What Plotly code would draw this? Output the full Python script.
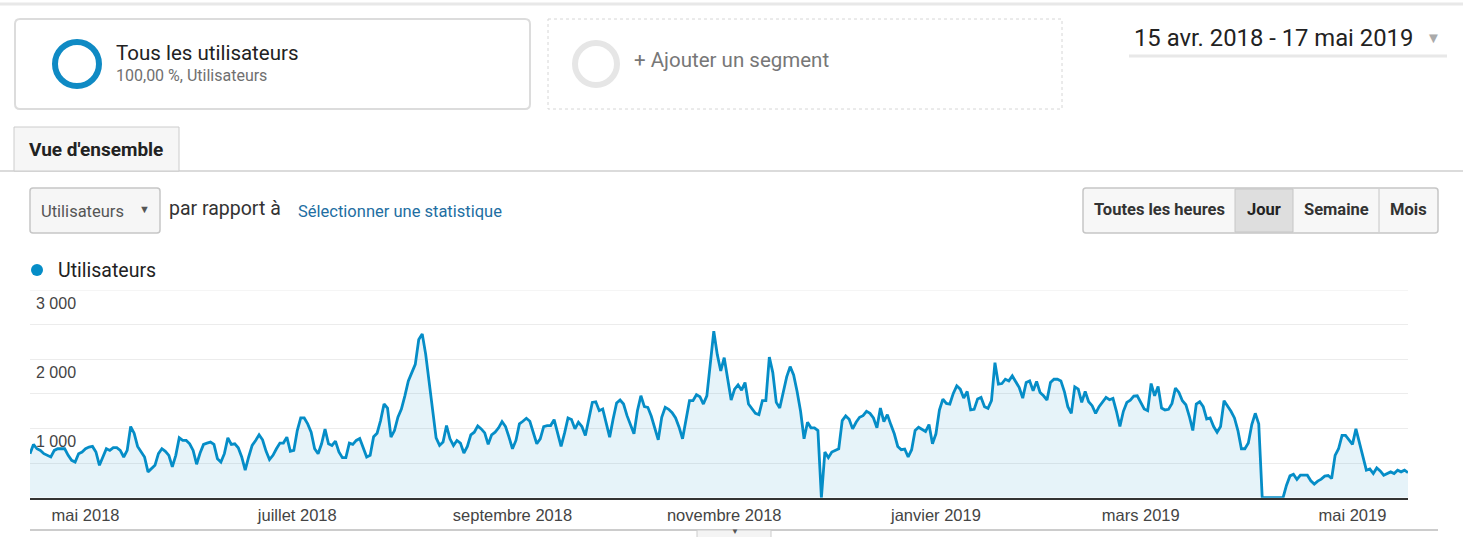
import pandas as pd
import plotly.graph_objects as go

W, H = 1463, 537

# ---------------- data ----------------
start_date = "2018-04-15"
end_date = "2019-05-17"
users = [
    636, 770, 707, 683, 636, 612, 588, 683, 707, 707,
    707, 612, 540, 516, 636, 660, 707, 731, 741, 660,
    468, 588, 707, 683, 722, 722, 683, 588, 683, 1028,
    932, 741, 660, 588, 373, 421, 468, 636, 707, 669,
    612, 445, 612, 865, 827, 827, 779, 683, 483, 645,
    770, 789, 803, 770, 564, 516, 636, 865, 770, 779,
    722, 588, 397, 588, 755, 827, 908, 836, 674, 550,
    612, 707, 789, 789, 875, 669, 683, 970, 1152, 1152,
    1066, 946, 707, 636, 779, 990, 779, 755, 817, 660,
    578, 578, 789, 770, 827, 856, 731, 588, 612, 880,
    932, 1114, 1353, 1295, 875, 970, 1162, 1281, 1472, 1687,
    1807, 1926, 2285, 2366, 2070, 1663, 1281, 865, 755, 803,
    1042, 851, 755, 827, 789, 645, 741, 908, 946, 1037,
    994, 937, 770, 908, 946, 1009, 1099, 1028, 875, 707,
    827, 1066, 1104, 1147, 1104, 946, 779, 851, 1028, 1042,
    1042, 1128, 923, 741, 932, 1152, 1128, 994, 1090, 1028,
    899, 1162, 1377, 1386, 1257, 1281, 1056, 875, 1138, 1367,
    1410, 1353, 1185, 1066, 923, 1257, 1472, 1315, 1305, 1176,
    1009, 836, 1162, 1305, 1276, 1228, 1152, 1018, 851, 1114,
    1401, 1401, 1487, 1458, 1353, 1472, 1926, 2404, 2070, 1831,
    2022, 1687, 1410, 1568, 1630, 1553, 1663, 1353, 1281, 1219,
    1200, 1401, 1401, 2032, 1807, 1377, 1295, 1534, 1745, 1893,
    1773, 1534, 1248, 851, 1090, 1009, 1009, 970, 0, 660,
    578, 660, 683, 707, 1114, 1181, 1133, 994, 1090, 1162,
    1185, 1248, 1219, 1152, 1009, 1295, 1099, 1200, 1056, 923,
    741, 693, 703, 588, 693, 970, 1018, 985, 956, 1056,
    779, 923, 1267, 1424, 1362, 1353, 1506, 1616, 1568, 1439,
    1534, 1267, 1276, 1424, 1448, 1315, 1291, 1401, 1950, 1640,
    1649, 1711, 1687, 1759, 1678, 1592, 1439, 1663, 1687, 1544,
    1678, 1520, 1472, 1410, 1663, 1711, 1711, 1687, 1534, 1315,
    1219, 1601, 1568, 1377, 1534, 1386, 1329, 1219, 1315, 1391,
    1448, 1415, 1434, 1248, 1028, 1248, 1377, 1410, 1467, 1472,
    1377, 1281, 1257, 1649, 1472, 1606, 1295, 1267, 1276, 1362,
    1582, 1520, 1401, 1343, 1176, 970, 1353, 1386, 1315, 1138,
    1152, 1028, 946, 1028, 1401, 1329, 1248, 1152, 970, 707,
    707, 789, 1056, 1219, 1066, 0, 0, 0, 0, 0,
    0, 0, 180, 315, 339, 263, 325, 325, 325, 244,
    196, 239, 268, 311, 320, 277, 612, 707, 899, 899,
    836, 770, 994, 803, 612, 397, 416, 349, 430, 387,
    325, 344, 373, 349, 397, 373, 397, 363,
]
dates = pd.date_range(start_date, end_date, freq="D")

month_ticks = ["2018-05-01", "2018-07-01", "2018-09-01", "2018-11-01",
               "2019-01-01", "2019-03-01", "2019-05-01"]
month_labels = ["mai 2018", "juillet 2018", "septembre 2018", "novembre 2018",
                "janvier 2019", "mars 2019", "mai 2019"]
y_ticks = [0, 500, 1000, 1500, 2000, 2500, 3000]
y_labels = ["", "", "1 000", "", "2 000", "", "3 000"]
y_max = 3000

series_name = "Utilisateurs"
date_range_text = "15 avr. 2018 - 17 mai 2019"

# ---------------- helpers ----------------
def px(x):
    return x / W

def py(y):
    return 1 - y / H

def P(x, y):
    return f"{px(x):.6f},{py(y):.6f}"

def rrect(x0, y0, x1, y1, r):
    return (f"M{P(x0 + r, y0)} L{P(x1 - r, y0)} Q{P(x1, y0)} {P(x1, y0 + r)} "
            f"L{P(x1, y1 - r)} Q{P(x1, y1)} {P(x1 - r, y1)} L{P(x0 + r, y1)} "
            f"Q{P(x0, y1)} {P(x0, y1 - r)} L{P(x0, y0 + r)} Q{P(x0, y0)} {P(x0 + r, y0)} Z")

shapes = []
annotations = []

def line(x0, y0, x1, y1, color, width=1, dash="solid"):
    shapes.append(dict(type="line", xref="paper", yref="paper",
                       x0=px(x0), y0=py(y0), x1=px(x1), y1=py(y1),
                       line=dict(color=color, width=width, dash=dash)))

def rect(x0, y0, x1, y1, fill, lc, lw=1, dash="solid"):
    shapes.append(dict(type="rect", xref="paper", yref="paper",
                       x0=px(x0), y0=py(y0), x1=px(x1), y1=py(y1),
                       fillcolor=fill, line=dict(color=lc, width=lw, dash=dash)))

def rounded(x0, y0, x1, y1, r, fill, lc, lw=1):
    shapes.append(dict(type="path", xref="paper", yref="paper",
                       path=rrect(x0, y0, x1, y1, r),
                       fillcolor=fill, line=dict(color=lc, width=lw)))

def circle(cx, cy, r, fill, lc, lw):
    shapes.append(dict(type="circle", xref="paper", yref="paper",
                       x0=px(cx - r), x1=px(cx + r), y0=py(cy + r), y1=py(cy - r),
                       fillcolor=fill, line=dict(color=lc, width=lw)))

def text(x, y, s, size, color, anchor="left", family="Roboto, Arial, sans-serif", bold=False):
    if bold:
        s = f"<b>{s}</b>"
    annotations.append(dict(xref="paper", yref="paper", x=px(x), y=py(y),
                            text=s, showarrow=False, xanchor=anchor, yanchor="middle",
                            font=dict(size=size, color=color, family=family)))

# ---------------- UI chrome ----------------
line(0, 4, W, 4, "#e8e8e8", 3)

# segment 1
rounded(15, 19, 530, 109, 5, "white", "#dcdcdc", 2)
circle(77, 64, 22, "rgba(0,0,0,0)", "#0f8ac4", 6)
text(114, 53, "Tous les utilisateurs", 20.5, "#222222")
text(114, 76, "100,00 %, Utilisateurs", 16, "#707070")

# segment 2 (dotted)
rect(548, 19, 1062, 109, "white", "#d6d6d6", 1, "dot")
circle(596, 64, 21, "rgba(0,0,0,0)", "#e6e6e6", 6)
text(632, 60, "+ Ajouter un segment", 20.5, "#777777")

# date range
text(1132, 38, date_range_text, 23.8, "#222222")
text(1433, 38, "▼", 15, "#aaaaaa", anchor="center")
line(1129, 56, 1447, 56, "#e8e8e8", 3)

# tab
line(0, 171, W, 171, "#cfcfcf", 1.5)
rect(14, 127, 179, 171, "#f6f6f6", "#cccccc", 1)
text(27, 149, "Vue d'ensemble", 19, "#222222", bold=True)

# metric selector
rounded(30, 188, 160, 233, 3, "#f6f6f6", "#c6c6c6", 1.5)
text(39, 211, "Utilisateurs", 16.5, "#555555")
text(144, 210, "▼", 11, "#555555", anchor="center")
text(167, 208, "par rapport à", 19.5, "#333333")
text(296, 211, "Sélectionner une statistique", 16.5, "#226ea2")

# granularity buttons
rounded(1083, 188, 1438, 233, 3, "#f7f7f7", "#c6c6c6", 1.5)
rect(1235, 189, 1293, 232, "#dedede", "#c6c6c6", 1)
line(1379, 189, 1379, 232, "#c6c6c6", 1)
text(1159, 210, "Toutes les heures", 16.5, "#333333", anchor="center", bold=True)
text(1264, 210, "Jour", 16.5, "#222222", anchor="center", bold=True)
text(1336, 210, "Semaine", 16.5, "#333333", anchor="center", bold=True)
text(1408, 210, "Mois", 16.5, "#333333", anchor="center", bold=True)

# legend
circle(37, 270, 6, "#058dc7", "#058dc7", 0)
text(56, 270, series_name, 19.5, "#222222")

# bottom separator + scroll tab
line(30, 530, 1438, 530, "#cccccc", 2)
rect(697, 530, 771, 540, "#f4f4f4", "#cccccc", 1)
text(735, 531, "▼", 8, "#555555", anchor="center")

# top gridline (3000) drawn on the y scale
shapes.append(dict(type="line", xref="paper", yref="y", x0=px(30), x1=px(1408),
                   y0=y_max, y1=y_max, line=dict(color="#ececec", width=1), layer="below"))

# ---------------- chart ----------------
fig = go.Figure()
fig.add_trace(go.Scatter(
    x=dates, y=users, mode="lines", name=series_name,
    line=dict(color="#058dc7", width=2.8),
    fill="tozeroy", fillcolor="rgba(5,141,199,0.10)",
    hoverinfo="x+y",
))

fig.update_layout(
    width=W, height=H, autosize=False,
    margin=dict(l=0, r=0, t=0, b=0, pad=0),
    paper_bgcolor="white", plot_bgcolor="white",
    showlegend=False,
    shapes=shapes, annotations=annotations,
    xaxis=dict(
        type="date", domain=[px(30), px(1408)],
        range=[start_date, end_date],
        tickvals=month_ticks, ticktext=month_labels,
        showgrid=False, zeroline=False,
        showline=True, linecolor="#333333", linewidth=2,
        ticks="", ticklabelstandoff=1,
        tickfont=dict(size=16.5, color="#444444",
                      family="Liberation Sans, Arial, sans-serif"),
        fixedrange=True,
    ),
    yaxis=dict(
        domain=[py(497.7), py(290)], range=[0, y_max],
        tickvals=y_ticks, ticktext=y_labels,
        showgrid=True, gridcolor="#ececec", gridwidth=1,
        zeroline=False, showline=False, ticks="",
        ticklabelposition="inside", ticklabelshift=13, ticklabelstandoff=3,
        tickfont=dict(size=16, color="#444444",
                      family="Liberation Sans, Arial, sans-serif"),
        fixedrange=True,
    ),
)

fig.write_html("out.html", config={"displayModeBar": False})
